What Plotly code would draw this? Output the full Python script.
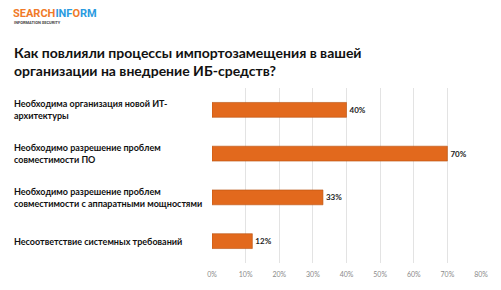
import plotly.graph_objects as go

categories = [
    "Необходима организация новой ИТ-<br>архитектуры",
    "Необходимо разрешение проблем<br>совместимости ПО",
    "Необходимо разрешение проблем<br>совместимости с аппаратными мощностями",
    "Несоответствие системных требований",
]
values = [40, 70, 33, 12]
tick_vals = [0, 10, 20, 30, 40, 50, 60, 70, 80]
tick_text = ["0%", "10%", "20%", "30%", "40%", "50%", "60%", "70%", "80%"]

W, H = 501, 290
L, R, T, B = 212, 20, 88, 25
pw = W - L - R

fig = go.Figure()
fig.add_trace(go.Bar(
    y=list(range(len(values))), x=values, orientation="h",
    marker=dict(color="#E2691D", line=dict(color="#B9500F", width=0.6)),
    text=[f"<b>{v}%</b>" for v in values], textposition="outside",
    textfont=dict(family="Lato", size=8, color="#222222"),
    cliponaxis=False, width=0.34,
))

fig.update_layout(
    width=W, height=H, margin=dict(l=L, r=R, t=T, b=B),
    paper_bgcolor="white", plot_bgcolor="white", showlegend=False,
    xaxis=dict(range=[0, 80], tickvals=tick_vals, ticktext=tick_text,
               showgrid=True, gridcolor="#E3E3E3", gridwidth=1, zeroline=False,
               showline=False, ticks="", tickfont=dict(family="Lato", size=7, color="#8A8A8A"),
               ticklabelstandoff=6),
    yaxis=dict(range=[3.5, -0.5], showticklabels=False, showgrid=False, zeroline=False),
    font=dict(family="Lato"),
)

for i, c in enumerate(categories):
    fig.add_annotation(xref="paper", yref="y", x=(12 - L) / pw, y=i, text=f"<b>{c}</b>",
                       xanchor="left", yanchor="middle", align="left", showarrow=False,
                       font=dict(family="Lato", size=9, color="#111111"))

fig.add_annotation(xref="paper", yref="paper", x=(12 - L) / pw, y=1 + (88 - 61) / (H - T - B),
                   text="<b>Как повлияли процессы импортозамещения в вашей<br>организации на внедрение ИБ-средств?</b>",
                   xanchor="left", yanchor="middle", align="left", showarrow=False,
                   font=dict(family="Lato", size=14, color="#111111"))

fig.add_annotation(xref="paper", yref="paper", x=(11 - L) / pw, y=1 + (88 - 13) / (H - T - B),
                   text="<b><span style='color:#F07A28'>SEARCH</span><span style='color:#2A9BE0'>INF</span><span style='color:#F07A28'>O</span><span style='color:#2A9BE0'>RM</span></b>",
                   xanchor="left", yanchor="middle", showarrow=False,
                   font=dict(family="Roboto", size=11))
fig.add_annotation(xref="paper", yref="paper", x=(12 - L) / pw, y=1 + (88 - 22) / (H - T - B),
                   text="<b>INFORMATION SECURITY</b>",
                   xanchor="left", yanchor="middle", showarrow=False,
                   font=dict(family="Roboto", size=4, color="#444444"))

fig.write_html("out.html")
